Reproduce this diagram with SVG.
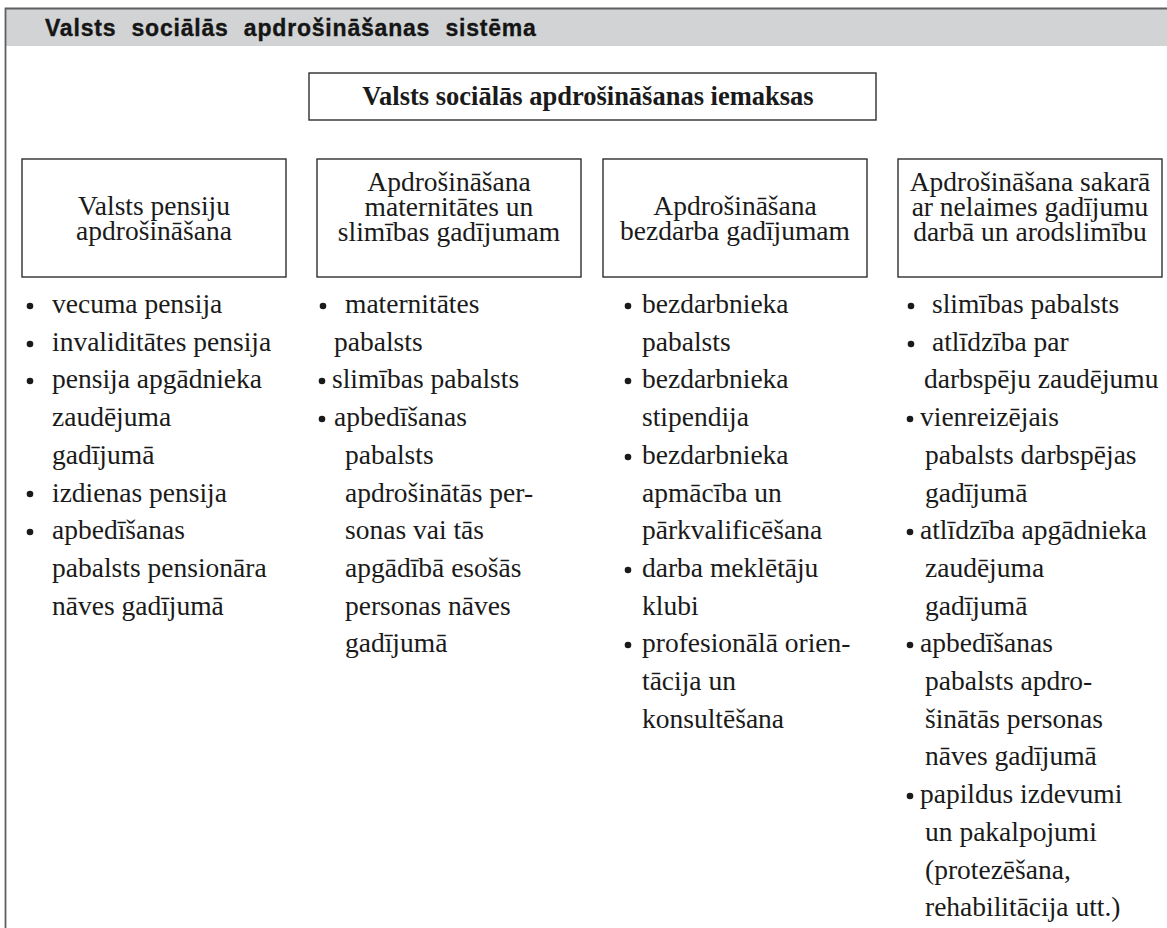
<svg xmlns="http://www.w3.org/2000/svg" width="1167" height="928" viewBox="0 0 1167 928">
<style>
.frame{fill:none;stroke:#5f5f5f;stroke-width:1.8}
.band{fill:#d1d3d4}
.hdr{font-family:"Liberation Sans",Arial,sans-serif;font-weight:bold;font-size:23px;fill:#151515;stroke:#151515;stroke-width:0.35;letter-spacing:0.8px;word-spacing:8px}
.box{fill:#fff;stroke:#2e2e2e;stroke-width:1.4}
.ttl{font-family:"Liberation Serif","Times New Roman",serif;font-weight:bold;font-size:26.5px;fill:#1a1a1a;text-anchor:middle}
.bt{font-family:"Liberation Serif","Times New Roman",serif;font-size:27.5px;fill:#1a1a1a;text-anchor:middle}
.li{font-family:"Liberation Serif","Times New Roman",serif;font-size:27.5px;fill:#1a1a1a}
.bu{fill:#1a1a1a}
</style>
<rect class="band" x="5" y="8" width="1162" height="38"/>
<path class="frame" d="M1167 8.5 H5.5 V928"/>
<text class="hdr" x="45" y="36">Valsts sociālās apdrošināšanas sistēma</text>

<g id="node-top">
<rect class="box" x="309" y="73" width="567" height="47"/>
<text class="ttl" x="588" y="105">Valsts sociālās apdrošināšanas iemaksas</text>
</g>

<g id="connectors"></g>

<g id="node-pension">
<rect class="box" x="22" y="159" width="264" height="118"/>
<text class="bt" x="154" y="215">Valsts pensiju</text>
<text class="bt" x="154" y="240">apdrošināšana</text>
<g class="li">
<circle class="bu" cx="30" cy="306" r="3.3"/><text x="52" y="313">vecuma pensija</text>
<circle class="bu" cx="30" cy="344" r="3.3"/><text x="52" y="350.7">invaliditātes pensija</text>
<circle class="bu" cx="30" cy="381" r="3.3"/><text x="52" y="388.4">pensija apgādnieka</text>
<text x="52" y="426.1">zaudējuma</text>
<text x="52" y="463.8">gadījumā</text>
<circle class="bu" cx="30" cy="494" r="3.3"/><text x="52" y="501.5">izdienas pensija</text>
<circle class="bu" cx="30" cy="532" r="3.3"/><text x="52" y="539.2">apbedīšanas</text>
<text x="52" y="576.9">pabalsts pensionāra</text>
<text x="52" y="614.6">nāves gadījumā</text>
</g>
</g>

<g id="node-maternity">
<rect class="box" x="317" y="159" width="264" height="118"/>
<text class="bt" x="449" y="191">Apdrošināšana</text>
<text class="bt" x="449" y="216">maternitātes un</text>
<text class="bt" x="449" y="241">slimības gadījumam</text>
<g class="li">
<circle class="bu" cx="323" cy="306" r="3.3"/><text x="345" y="313">maternitātes</text>
<text x="334" y="350.7">pabalsts</text>
<circle class="bu" cx="322" cy="381" r="3.3"/><text x="332" y="388.4">slimības pabalsts</text>
<circle class="bu" cx="322" cy="419" r="3.3"/><text x="334" y="426.1">apbedīšanas</text>
<text x="345" y="463.8">pabalsts</text>
<text x="345" y="501.5">apdrošinātās per-</text>
<text x="345" y="539.2">sonas vai tās</text>
<text x="345" y="576.9">apgādībā esošās</text>
<text x="345" y="614.6">personas nāves</text>
<text x="345" y="652.3">gadījumā</text>
</g>
</g>

<g id="node-unemployment">
<rect class="box" x="603" y="159" width="264" height="118"/>
<text class="bt" x="735" y="215">Apdrošināšana</text>
<text class="bt" x="735" y="240">bezdarba gadījumam</text>
<g class="li">
<circle class="bu" cx="628" cy="306" r="3.3"/><text x="642" y="313">bezdarbnieka</text>
<text x="642" y="350.7">pabalsts</text>
<circle class="bu" cx="628" cy="381" r="3.3"/><text x="642" y="388.4">bezdarbnieka</text>
<text x="642" y="426.1">stipendija</text>
<circle class="bu" cx="628" cy="457" r="3.3"/><text x="642" y="463.8">bezdarbnieka</text>
<text x="642" y="501.5">apmācība un</text>
<text x="642" y="539.2">pārkvalificēšana</text>
<circle class="bu" cx="628" cy="570" r="3.3"/><text x="642" y="576.9">darba meklētāju</text>
<text x="642" y="614.6">klubi</text>
<circle class="bu" cx="628" cy="645" r="3.3"/><text x="642" y="652.3">profesionālā orien-</text>
<text x="642" y="690">tācija un</text>
<text x="642" y="727.7">konsultēšana</text>
</g>
</g>

<g id="node-accident">
<rect class="box" x="898" y="159" width="264" height="118"/>
<text class="bt" x="1030" y="191">Apdrošināšana sakarā</text>
<text class="bt" x="1030" y="216">ar nelaimes gadījumu</text>
<text class="bt" x="1030" y="241">darbā un arodslimību</text>
<g class="li">
<circle class="bu" cx="911" cy="306" r="3.3"/><text x="932" y="313">slimības pabalsts</text>
<circle class="bu" cx="911" cy="344" r="3.3"/><text x="932" y="350.7">atlīdzība par</text>
<text x="924" y="388.4">darbspēju zaudējumu</text>
<circle class="bu" cx="910" cy="419" r="3.3"/><text x="920" y="426.1">vienreizējais</text>
<text x="925" y="463.8">pabalsts darbspējas</text>
<text x="925" y="501.5">gadījumā</text>
<circle class="bu" cx="910" cy="532" r="3.3"/><text x="920" y="539.2">atlīdzība apgādnieka</text>
<text x="925" y="576.9">zaudējuma</text>
<text x="925" y="614.6">gadījumā</text>
<circle class="bu" cx="910" cy="645" r="3.3"/><text x="920" y="652.3">apbedīšanas</text>
<text x="925" y="690">pabalsts apdro-</text>
<text x="925" y="727.7">šinātās personas</text>
<text x="925" y="765.4">nāves gadījumā</text>
<circle class="bu" cx="910" cy="796" r="3.3"/><text x="920" y="803.1">papildus izdevumi</text>
<text x="925" y="840.8">un pakalpojumi</text>
<text x="925" y="878.5">(protezēšana,</text>
<text x="925" y="916.2">rehabilitācija utt.)</text>
</g>
</g>
</svg>
